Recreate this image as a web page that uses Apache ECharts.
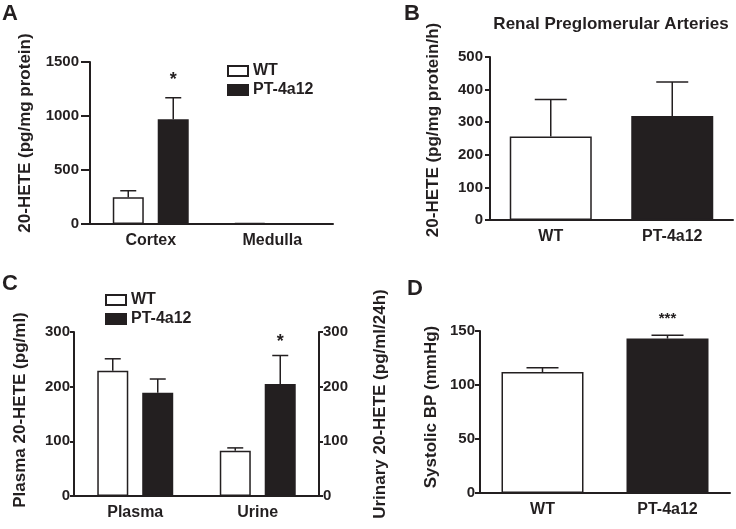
<!DOCTYPE html>
<html>
<head>
<meta charset="utf-8">
<script src="https://cdn.jsdelivr.net/npm/echarts@6/dist/echarts.min.js"></script>
<style>
html,body{margin:0;padding:0;background:#fff;}
#c{width:736px;height:529px;}
</style>
</head>
<body>
<div id="c"></div>
<script>
// ---- Panel A ----
const catsA = ['Cortex', 'Medulla'];
const wtA = [247, 10];
const ptA = [969, 3];
const errWtA = [61, 0];
const errPtA = [200, 0];
const sigPtA = ['*', ''];
const ticksA = [0, 500, 1000, 1500];

// ---- Panel B ----
const catsB = ['WT', 'PT-4a12'];
const valB = [256, 319];
const errB = [114, 104];
const ticksB = [0, 100, 200, 300, 400, 500];

// ---- Panel C ----
const catsC = ['Plasma', 'Urine'];
const wtC = [229, 83];
const ptC = [189, 205];
const errWtC = [22, 5];
const errPtC = [25, 52];
const sigPtC = ['', '*'];
const ticksC = [0, 100, 200, 300];

// ---- Panel D ----
const catsD = ['WT', 'PT-4a12'];
const valD = [112, 143];
const errD = [4, 3];
const sigD = ['', '***'];
const ticksD = [0, 50, 100, 150];

const INK = '#231f20';
const FONT = '"Liberation Sans", Arial, sans-serif';

function xAxisCfg(gi, data) {
  return {
    type: 'category', gridIndex: gi, data: data,
    axisLine: {lineStyle: {color: INK, width: 2}},
    axisTick: {alignWithLabel: true, length: 5, lineStyle: {color: INK, width: 2}},
    axisLabel: {color: INK, fontFamily: FONT, fontWeight: 'bold', fontSize: 16, margin: 9}
  };
}
function yAxisCfg(gi, ticks, pos, tickLen, margin) {
  return {
    type: 'value', gridIndex: gi, position: pos || 'left',
    min: ticks[0], max: ticks[ticks.length - 1], interval: ticks[1] - ticks[0],
    axisLine: {show: true, lineStyle: {color: INK, width: 2}},
    axisTick: {show: true, length: tickLen, lineStyle: {color: INK, width: 2}},
    splitLine: {show: false},
    axisLabel: {color: INK, fontFamily: FONT, fontWeight: 'bold', fontSize: 15, margin: margin,
      formatter: v => String(v)}
  };
}
const wtStyle = {color: '#ffffff', borderColor: INK, borderWidth: 1.5};
const ptStyle = {color: INK, borderColor: INK, borderWidth: 1.5};

function errSeries(xi, yi, means, errs, offset, capHalf, sigs, sigSize, sigGap) {
  return {
    type: 'custom', xAxisIndex: xi, yAxisIndex: yi, z: 5, silent: true,
    data: means.map((m, i) => [i, m, errs[i]]),
    renderItem: function (params, api) {
      const ci = api.value(0), m = api.value(1), e = api.value(2);
      const base = api.coord([ci, m]);
      const top = api.coord([ci, m + e]);
      const x = base[0] + offset;
      const children = [];
      if (e > 0) {
        children.push({type: 'line', shape: {x1: x, y1: base[1], x2: x, y2: top[1]}, style: {stroke: INK, lineWidth: 1.5}});
        children.push({type: 'line', shape: {x1: x - capHalf, y1: top[1], x2: x + capHalf, y2: top[1]}, style: {stroke: INK, lineWidth: 1.5}});
      }
      const s = sigs ? sigs[params.dataIndex] : '';
      if (s) {
        children.push({type: 'text', x: x, y: top[1] - sigGap, style: {text: s, fill: INK, font: 'bold ' + sigSize + 'px ' + FONT, textAlign: 'center', textVerticalAlign: 'middle'}});
      }
      return {type: 'group', children: children};
    }
  };
}

function vtitle(text, x, y, size) {
  return {type: 'text', x: x, y: y, rotation: Math.PI / 2,
    style: {text: text, fill: INK, font: 'bold ' + size + 'px ' + FONT, textAlign: 'center', textVerticalAlign: 'middle'}};
}
function letter(text, x, y) {
  return {type: 'text', x: x, y: y, style: {text: text, fill: INK, font: 'bold 22px ' + FONT, textAlign: 'left', textVerticalAlign: 'top'}};
}
const legendText = {color: INK, fontFamily: FONT, fontWeight: 'bold', fontSize: 16};

const option = {
  animation: false,
  backgroundColor: '#ffffff',
  grid: [
    {left: 90, top: 62, width: 243, height: 162},
    {left: 490, top: 57, width: 243, height: 163},
    {left: 74, top: 332, width: 245, height: 164},
    {left: 480, top: 331, width: 250, height: 162}
  ],
  xAxis: [xAxisCfg(0, catsA), xAxisCfg(1, catsB), xAxisCfg(2, catsC), xAxisCfg(3, catsD)],
  yAxis: [
    yAxisCfg(0, ticksA, 'left', 9, 11),
    yAxisCfg(1, ticksB, 'left', 5, 7),
    yAxisCfg(2, ticksC, 'left', 4, 4),
    yAxisCfg(3, ticksD, 'left', 5, 5),
    yAxisCfg(2, ticksC, 'right', 4, 4)
  ],
  legend: [
    {orient: 'vertical', left: 222, top: 58, itemWidth: 20, itemHeight: 10, itemGap: 3, icon: 'rect',
      data: ['WT', 'PT-4a12'], selectedMode: false, textStyle: legendText},
    {orient: 'vertical', left: 100, top: 287, itemWidth: 20, itemHeight: 10, itemGap: 3, icon: 'rect',
      data: ['WT', 'PT-4a12'], selectedMode: false, textStyle: legendText}
  ],
  series: [
    {name: 'WT', type: 'bar', xAxisIndex: 0, yAxisIndex: 0, data: wtA, barWidth: 31, barGap: '45%', itemStyle: wtStyle},
    {name: 'PT-4a12', type: 'bar', xAxisIndex: 0, yAxisIndex: 0, data: ptA, barWidth: 31, barGap: '45%', itemStyle: ptStyle},
    errSeries(0, 0, wtA, errWtA, -22.5, 8, null, 17, 0),
    errSeries(0, 0, ptA, errPtA, 22.5, 8, sigPtA, 18, 18),

    {name: 'B', type: 'bar', xAxisIndex: 1, yAxisIndex: 1, data: valB, barWidth: 82,
      itemStyle: {borderColor: INK, borderWidth: 1.5, color: p => p.dataIndex === 0 ? '#ffffff' : INK}},
    errSeries(1, 1, valB, errB, 0, 16, null, 17, 0),

    {name: 'WT', type: 'bar', xAxisIndex: 2, yAxisIndex: 2, data: wtC, barWidth: 31, barGap: '45%', itemStyle: wtStyle},
    {name: 'PT-4a12', type: 'bar', xAxisIndex: 2, yAxisIndex: 2, data: ptC, barWidth: 31, barGap: '45%', itemStyle: ptStyle},
    errSeries(2, 2, wtC, errWtC, -22.5, 8, null, 17, 0),
    errSeries(2, 2, ptC, errPtC, 22.5, 8, sigPtC, 18, 13),

    {name: 'D', type: 'bar', xAxisIndex: 3, yAxisIndex: 3, data: valD, barWidth: 82,
      itemStyle: {borderColor: INK, borderWidth: 1.5, color: p => p.dataIndex === 0 ? '#ffffff' : INK}},
    errSeries(3, 3, valD, errD, 0, 16, sigD, 15, 16)
  ],
  graphic: [
    letter('A', 2, 3), letter('B', 404, 3), letter('C', 2, 273), letter('D', 407, 278),
    {type: 'text', x: 611, y: 24, style: {text: 'Renal Preglomerular Arteries', fill: INK, font: 'bold 17px ' + FONT, textAlign: 'center', textVerticalAlign: 'middle'}},
    vtitle('20-HETE (pg/mg protein)', 25, 133, 17),
    vtitle('20-HETE (pg/mg protein/h)', 433, 130, 17),
    vtitle('Plasma 20-HETE (pg/ml)', 20, 410, 17),
    vtitle('Urinary 20-HETE (pg/ml/24h)', 380, 404, 17),
    vtitle('Systolic BP (mmHg)', 431, 407, 17)
  ]
};

const chart = echarts.init(document.getElementById('c'), null, {renderer: 'canvas'});
chart.setOption(option);
</script>
</body>
</html>
